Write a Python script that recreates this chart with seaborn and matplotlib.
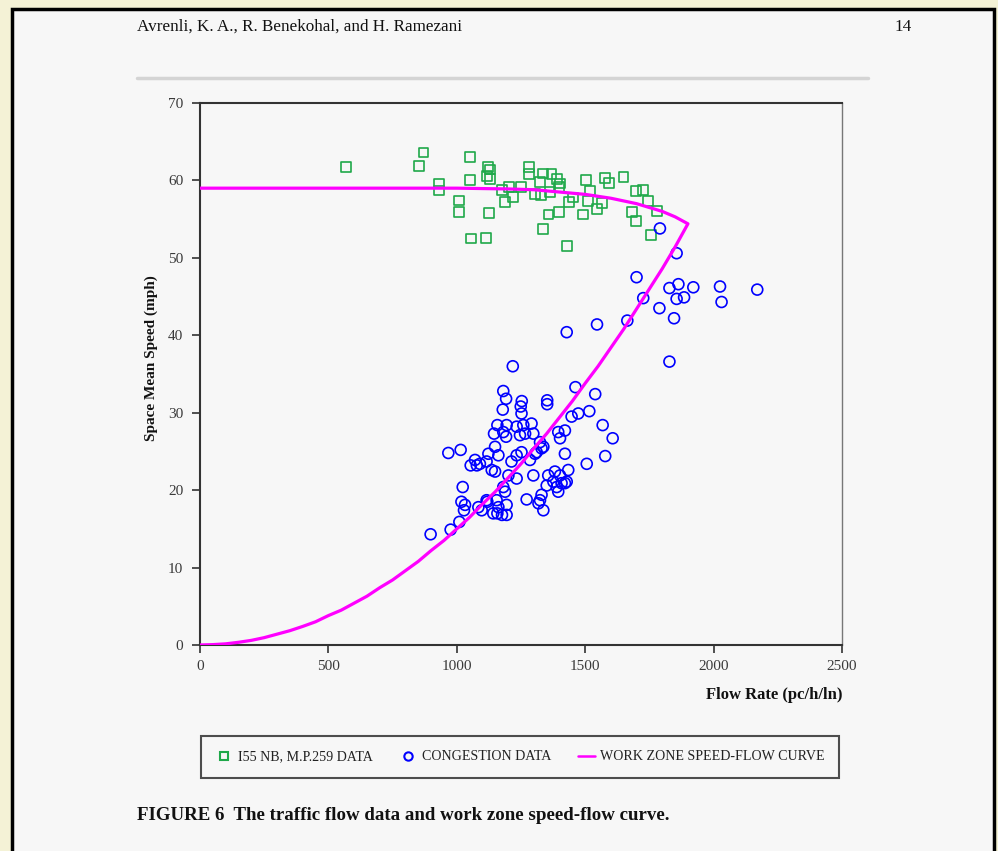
import numpy as np
import pandas as pd
import matplotlib
matplotlib.use('Agg')
import matplotlib.pyplot as plt
import seaborn as sns
from matplotlib.lines import Line2D
from matplotlib.patches import Rectangle

# Datos (flujo pc/h/ln, velocidad mph)
i55_flow = [568, 870, 854, 1051, 1123, 1128, 1118, 1128, 932, 932, 1053, 1010, 1010, 1126,
            1054, 1114, 1175, 1204, 1220, 1188, 1250, 1280, 1280, 1337, 1369, 1324, 1389,
            1402, 1363, 1305, 1327, 1399, 1438, 1454, 1503, 1519, 1512, 1564, 1545, 1399,
            1357, 1493, 1577, 1594, 1649, 1698, 1726, 1745, 1778, 1681, 1698, 1755, 1337, 1430]
i55_speed = [61.7, 63.6, 61.9, 63.0, 61.7, 61.4, 60.6, 60.2, 59.6, 58.7, 60.1, 57.4, 55.9, 55.8,
             52.5, 52.6, 58.8, 59.2, 57.9, 57.2, 59.1, 61.7, 60.8, 60.9, 60.8, 59.8, 60.2,
             59.6, 58.5, 58.3, 58.1, 59.1, 57.2, 57.8, 60.1, 58.7, 57.3, 57.1, 56.3, 55.9,
             55.6, 55.6, 60.3, 59.7, 60.4, 58.6, 58.8, 57.3, 56.1, 55.9, 54.8, 53.0, 53.7, 51.5]

cong_flow = [1218, 1181, 1192, 1179, 1253, 1249, 1252, 1352, 1352, 1462, 1539, 1516, 1473, 1447,
             1568, 1607, 1578, 1506, 1428, 1546, 1664, 1791, 1856, 1700, 1828, 1863, 1921, 2025,
             2170, 1726, 1856, 1885, 2031, 1789, 1846, 1828,
             1158, 1145, 1181, 1194, 1233, 1259, 1291, 1246, 1266, 1298, 1395, 1421, 1402, 1192,
             1324, 1337, 1311, 1149, 1123, 1162, 1233, 1252, 1213, 1285, 1305, 1330, 1421, 967,
             1015, 1071, 1078, 1116, 1136, 1149, 1054, 1090,
             1201, 1233, 1298, 1356, 1382, 1402, 1434, 1376, 1408, 1350, 1428, 1395, 1330, 1181,
             1188, 1023, 1272, 1324, 1337, 1318, 1116, 1155, 1162, 1194, 1084, 1097, 1142, 1194,
             1018, 1032, 1028, 1119, 1158, 1176, 1010, 976, 898, 1389, 1421]
cong_speed = [36.0, 32.8, 31.8, 30.4, 31.5, 30.8, 29.9, 31.6, 31.1, 33.3, 32.4, 30.2, 29.9, 29.5,
              28.4, 26.7, 24.4, 23.4, 40.4, 41.4, 41.9, 53.8, 50.6, 47.5, 46.1, 46.6, 46.2, 46.3,
              45.9, 44.8, 44.7, 44.9, 44.3, 43.5, 42.2, 36.6,
              28.4, 27.3, 27.5, 28.4, 28.2, 28.4, 28.6, 27.1, 27.3, 27.3, 27.5, 27.7, 26.7, 26.9,
              26.2, 25.6, 24.9, 25.6, 24.7, 24.5, 24.5, 24.9, 23.7, 23.9, 24.7, 25.4, 24.7, 24.8,
              25.2, 23.9, 23.2, 23.7, 22.6, 22.4, 23.2, 23.4,
              21.9, 21.5, 21.9, 21.9, 22.4, 21.9, 22.6, 21.1, 20.9, 20.6, 21.1, 19.8, 19.4, 20.4,
              19.8, 20.4, 18.8, 18.7, 17.4, 18.3, 18.7, 18.7, 17.8, 18.1, 17.8, 17.4, 17.0, 16.8,
              18.5, 18.1, 17.4, 18.5, 17.0, 16.8, 15.9, 14.9, 14.3, 20.4, 20.9]

# curva: rama superior hasta la punta y luego rama inferior hasta el origen
curve_flow = [0, 200, 400, 600, 800, 1000, 1100, 1200, 1300, 1400, 1500, 1600, 1700, 1750, 1800,
              1850, 1900,
              1850, 1800, 1750, 1700, 1650, 1600, 1550, 1500, 1450, 1400, 1350, 1300, 1250, 1200,
              1150, 1100, 1050, 1000, 950, 900, 850, 800, 750, 700, 650, 600, 550, 500, 450,
              400, 350, 300, 250, 200, 150, 100, 50, 0]
curve_speed = [59.0, 59.0, 59.0, 59.0, 59.0, 59.0, 58.95, 58.9, 58.8, 58.5, 58.2, 57.7, 57.0, 56.5,
               56.0, 55.3, 54.4,
               51.4, 48.6, 46.0, 43.4, 40.8, 38.4, 36.0, 33.8, 31.5, 29.4, 27.3, 25.4, 23.4, 21.6,
               19.8, 18.2, 16.5, 15.0, 13.5, 12.2, 10.8, 9.6, 8.4, 7.4, 6.3, 5.4, 4.5, 3.8, 3.0,
               2.4, 1.85, 1.4, 0.95, 0.6, 0.35, 0.15, 0.05, 0.0]

green = '#1fa84a'
blue = '#0000ff'
magenta = '#ff00ff'
page = '#f7f7f7'

sns.set_theme(style='white')
plt.rcParams['font.family'] = ['Liberation Serif', 'DejaVu Serif']

W, H = 998, 851
fig = plt.figure(figsize=(W / 100, H / 100), dpi=100)
fig.patch.set_facecolor('#f4f2d6')

# hoja de papel con marco negro (por detras de los ejes)
fig.patches.append(Rectangle((12 / W, -0.05), (994 - 12) / W, 1.05 - 9 / H, transform=fig.transFigure,
                             facecolor=page, edgecolor='black', linewidth=2.5, zorder=-5))
fig.add_artist(Line2D([137 / W, 868 / W], [1 - 78 / H, 1 - 78 / H], color='#d4d4d4', lw=2.5,
                      zorder=-4))
fig.text(137 / W, 1 - 27 / H, 'Avrenli, K. A., R. Benekohal, and H. Ramezani', fontsize=12.3,
         va='center', ha='left', color='#111111')
fig.text(912 / W, 1 - 27 / H, '14', fontsize=12.3, va='center', ha='right', color='#111111')

ax = fig.add_axes([200 / W, 1 - 645 / H, (842 - 200) / W, (645 - 103) / H])
ax.set_facecolor(page)

sns.lineplot(x=curve_flow, y=curve_speed, sort=False, estimator=None, color=magenta,
             linewidth=2.3, ax=ax, zorder=3)
sns.scatterplot(x=i55_flow, y=i55_speed, marker='s', s=50, facecolors='none', edgecolor=green,
                linewidth=1.2, ax=ax, zorder=2)
sns.scatterplot(x=cong_flow, y=cong_speed, marker='o', s=62, facecolors='none', edgecolor=blue,
                linewidth=1.2, ax=ax, zorder=2)

ax.set_xlim(0, 2500)
ax.set_ylim(0, 70)
ax.set_xticks(np.arange(0, 2501, 500))
ax.set_yticks(np.arange(0, 71, 10))
ax.tick_params(axis='both', direction='out', length=6, width=1.2, colors='#333333',
               labelsize=11, labelcolor='#3a3a3a', bottom=True, left=True)
ax.tick_params(axis='y', pad=6)
ax.tick_params(axis='x', pad=5)
for side in ['left', 'bottom', 'top']:
    ax.spines[side].set_color('#333333')
    ax.spines[side].set_linewidth(1.5)
ax.spines['right'].set_color('#777777')
ax.spines['right'].set_linewidth(1.0)

ax.set_xlabel('Flow Rate (pc/h/ln)', fontsize=12, fontweight='bold', color='#111111')
ax.xaxis.set_label_coords(1.0, -0.077)
ax.xaxis.label.set_horizontalalignment('right')
ax.set_ylabel('Space Mean Speed (mph)', fontsize=11, fontweight='bold', color='#111111')
ax.yaxis.set_label_coords(-0.066, 0.53)

handles = [
    Line2D([], [], marker='s', linestyle='none', markersize=6, markerfacecolor='none',
           markeredgecolor=green, markeredgewidth=1.5),
    Line2D([], [], marker='o', linestyle='none', markersize=6, markerfacecolor='none',
           markeredgecolor=blue, markeredgewidth=1.5),
    Line2D([], [], color=magenta, linewidth=1.8),
]
labels = ['I55 NB, M.P.259 DATA', 'CONGESTION DATA', 'WORK ZONE SPEED-FLOW CURVE']
leg = fig.legend(handles, labels, loc='center', bbox_to_anchor=(520 / W, 1 - 757 / H), ncol=3,
                 fontsize=10.1, frameon=True, fancybox=False, edgecolor='#222222',
                 handlelength=1.2, handletextpad=0.4, columnspacing=1.9,
                 borderpad=1.0, labelcolor='#222222')
leg.get_frame().set_linewidth(1.5)
leg.get_frame().set_facecolor(page)

fig.text(137 / W, 1 - 815 / H, 'FIGURE 6  The traffic flow data and work zone speed-flow curve.',
         fontsize=13.6, fontweight='bold', va='center', ha='left', color='#111111')

fig.savefig('out.png', dpi=100, facecolor=fig.get_facecolor())
